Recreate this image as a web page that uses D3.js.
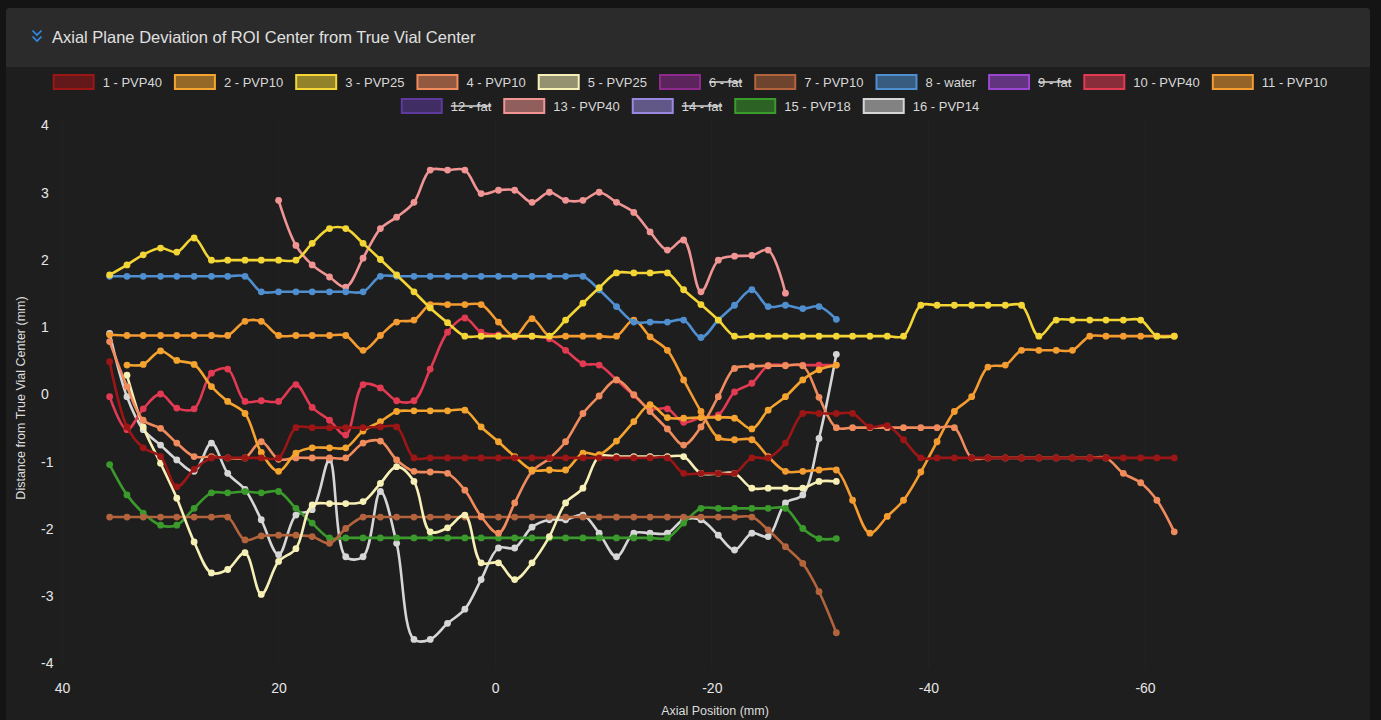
<!DOCTYPE html>
<html>
<head>
<meta charset="utf-8">
<script src="https://cdn.jsdelivr.net/npm/d3@7"></script>
<style>
  html, body { margin: 0; padding: 0; background: #141414; }
  svg { display: block; font-family: "Liberation Sans", Arial, Helvetica, sans-serif; }
</style>
</head>
<body>
<div id="chart"></div>
<script>
// axial positions (mm) of the slices
var positions = [35.6, 34.0, 32.5, 30.9, 29.4, 27.8, 26.2, 24.7, 23.1, 21.6,
  20.0, 18.4, 16.9, 15.3, 13.8, 12.2, 10.6, 9.1, 7.5, 6.0,
  4.4, 2.8, 1.3, -0.3, -1.8, -3.4, -5.0, -6.5, -8.1, -9.6,
  -11.2, -12.8, -14.3, -15.9, -17.4, -19.0, -20.6, -22.1, -23.7, -25.2,
  -26.8, -28.4, -29.9, -31.5, -33.0, -34.6, -36.2, -37.7, -39.3, -40.8,
  -42.4, -44.0, -45.5, -47.1, -48.6, -50.2, -51.8, -53.3, -54.9, -56.4,
  -58.0, -59.6, -61.1, -62.7];

var xTicks = [40, 20, 0, -20, -40, -60];
var yTicks = [4, 3, 2, 1, 0, -1, -2, -3, -4];

var s1_pvp40 = [0.48, -0.49, -0.8, -0.93, -1.38, -1.12, -0.95, -0.95, -0.95, -0.95,
  -0.95, -0.5, -0.5, -0.5, -0.5, -0.5, -0.49, -0.49, -0.95, -0.95,
  -0.95, -0.95, -0.95, -0.95, -0.95, -0.95, -0.95, -0.95, -0.95, -0.95,
  -0.95, -0.95, -0.95, -0.95, -1.18, -1.18, -1.18, -1.18, -0.95, -0.95,
  -0.73, -0.29, -0.29, -0.29, -0.29, -0.49, -0.47, -0.68, -0.95, -0.95,
  -0.95, -0.95, -0.95, -0.95, -0.95, -0.95, -0.95, -0.95, -0.95, -0.95,
  -0.95, -0.95, -0.95, -0.95];
var s2_pvp10 = [null, 0.43, 0.44, 0.64, 0.5, 0.44, 0.11, -0.11, -0.29, -0.87,
  -1.15, -0.88, -0.8, -0.8, -0.8, -0.55, -0.41, -0.26, -0.25, -0.25,
  -0.25, -0.24, -0.49, -0.71, -0.93, -1.13, -1.13, -1.13, -0.88, -0.9,
  -0.7, -0.41, -0.16, -0.35, -0.36, -0.35, -0.35, -0.36, -0.52, -0.24,
  -0.04, 0.21, 0.36, 0.43];
var s3_pvp25 = [1.77, 1.92, 2.07, 2.17, 2.11, 2.32, 1.99, 1.99, 1.99, 1.99,
  1.99, 1.99, 2.24, 2.46, 2.46, 2.24, 2.0, 1.77, 1.52, 1.28,
  1.06, 0.86, 0.86, 0.86, 0.86, 0.86, 0.86, 1.1, 1.35, 1.58,
  1.8, 1.8, 1.8, 1.8, 1.55, 1.33, 1.1, 0.86, 0.86, 0.86,
  0.86, 0.86, 0.86, 0.86, 0.86, 0.86, 0.86, 0.86, 1.32, 1.32,
  1.32, 1.32, 1.32, 1.32, 1.32, 0.86, 1.1, 1.1, 1.1, 1.1,
  1.1, 1.1, 0.86, 0.86];
var s4_pvp10 = [0.78, 0.11, -0.39, -0.51, -0.73, -0.93, -0.93, -0.95, -0.95, -0.71,
  -0.97, -0.95, -0.95, -0.95, -0.95, -0.73, -0.7, -0.98, -1.15, -1.16,
  -1.18, -1.43, -1.82, -2.07, -1.62, -1.15, -0.96, -0.71, -0.29, -0.03,
  0.21, -0.01, -0.26, -0.52, -0.76, -0.49, -0.04, 0.38, 0.41, 0.42,
  0.42, 0.42, -0.05, -0.5, -0.5, -0.5, -0.5, -0.5, -0.5, -0.5,
  -0.5, -0.95, -0.95, -0.95, -0.95, -0.95, -0.95, -0.95, -0.95, -0.95,
  -1.18, -1.32, -1.58, -2.05];
var s5_pvp25 = [null, 0.28, -0.49, -1.03, -1.55, -2.2, -2.66, -2.61, -2.36, -2.98,
  -2.49, -2.3, -1.65, -1.63, -1.63, -1.6, -1.33, -1.08, -1.3, -2.05,
  -1.99, -1.8, -2.51, -2.51, -2.76, -2.51, -2.12, -1.62, -1.4, -0.93,
  -0.93, -0.93, -0.93, -0.93, -0.93, -1.18, -1.18, -1.18, -1.4, -1.4,
  -1.4, -1.4, -1.3, -1.3];
var s6_fat = [];
var s7_pvp10 = [-1.83, -1.83, -1.83, -1.83, -1.83, -1.83, -1.83, -1.83, -2.17, -2.11,
  -2.1, -2.1, -2.12, -2.22, -2.0, -1.83, -1.83, -1.83, -1.83, -1.83,
  -1.83, -1.83, -1.83, -1.83, -1.83, -1.83, -1.83, -1.83, -1.83, -1.83,
  -1.83, -1.83, -1.83, -1.83, -1.83, -1.83, -1.83, -1.83, -1.83, -2.02,
  -2.27, -2.52, -2.94, -3.55];
var s8_water = [1.75, 1.75, 1.75, 1.75, 1.75, 1.75, 1.75, 1.75, 1.75, 1.52,
  1.52, 1.52, 1.52, 1.52, 1.52, 1.52, 1.75, 1.75, 1.75, 1.75,
  1.75, 1.75, 1.75, 1.75, 1.75, 1.75, 1.75, 1.75, 1.75, 1.55,
  1.3, 1.07, 1.07, 1.07, 1.1, 0.84, 1.1, 1.32, 1.55, 1.3,
  1.32, 1.27, 1.3, 1.11];
var s9_fat = [];
var s10_pvp40 = [-0.04, -0.53, -0.22, 0.0, -0.21, -0.22, 0.31, 0.37, -0.11, -0.1,
  -0.11, 0.14, -0.2, -0.39, -0.61, 0.14, 0.09, -0.1, -0.1, 0.37,
  0.92, 1.13, 0.92, 0.88, 0.85, 0.86, 0.82, 0.65, 0.45, 0.43,
  0.21, -0.02, -0.22, -0.22, -0.42, -0.35, -0.31, 0.03, 0.16, 0.42,
  0.43, 0.43, 0.43, 0.43];
var s11_pvp10 = [0.88, 0.87, 0.87, 0.87, 0.87, 0.87, 0.87, 0.87, 1.08, 1.08,
  0.87, 0.87, 0.87, 0.87, 0.87, 0.65, 0.87, 1.07, 1.1, 1.33,
  1.33, 1.33, 1.33, 1.07, 0.86, 1.12, 0.86, 0.86, 0.86, 0.86,
  0.86, 1.1, 0.85, 0.65, 0.21, -0.26, -0.65, -0.68, -0.68, -0.93,
  -1.15, -1.15, -1.13, -1.13, -1.58, -2.07, -1.82, -1.58, -1.16, -0.71,
  -0.26, -0.04, 0.4, 0.43, 0.65, 0.65, 0.65, 0.65, 0.86, 0.86,
  0.86, 0.86, 0.86, 0.86];
var s12_fat = [];
var s13_pvp40 = [null, null, null, null, null, null, null, null, null, null,
  2.88, 2.21, 1.92, 1.74, 1.59, 2.02, 2.46, 2.63, 2.85, 3.33,
  3.33, 3.33, 2.98, 3.03, 3.03, 2.85, 3.0, 2.88, 2.88, 3.0,
  2.85, 2.7, 2.41, 2.14, 2.29, 1.52, 1.99, 2.05, 2.06, 2.14,
  1.5];
var s14_fat = [];
var s15_pvp18 = [-1.05, -1.5, -1.77, -1.95, -1.95, -1.7, -1.47, -1.47, -1.45, -1.47,
  -1.45, -1.7, -1.92, -2.14, -2.14, -2.14, -2.14, -2.14, -2.14, -2.14,
  -2.14, -2.14, -2.14, -2.14, -2.14, -2.14, -2.14, -2.14, -2.14, -2.14,
  -2.14, -2.14, -2.14, -2.14, -1.92, -1.7, -1.7, -1.7, -1.7, -1.7,
  -1.7, -2.0, -2.15, -2.15];
var s16_pvp14 = [0.9, -0.04, -0.53, -0.76, -0.98, -1.15, -0.73, -1.18, -1.42, -1.87,
  -2.39, -1.8, -1.72, -0.98, -2.42, -2.42, -1.45, -2.22, -3.65, -3.65,
  -3.41, -3.2, -2.76, -2.29, -2.29, -1.98, -1.87, -1.87, -1.8, -2.07,
  -2.42, -2.07, -2.07, -2.07, -1.87, -1.87, -2.1, -2.32, -2.07, -2.12,
  -1.62, -1.5, -0.66, 0.59];

var seriesNames = ["1 - PVP40", "2 - PVP10", "3 - PVP25", "4 - PVP10", "5 - PVP25", "6 - fat",
  "7 - PVP10", "8 - water", "9 - fat", "10 - PVP40", "11 - PVP10", "12 - fat",
  "13 - PVP40", "14 - fat", "15 - PVP18", "16 - PVP14"];
var seriesValues = [s1_pvp40, s2_pvp10, s3_pvp25, s4_pvp10, s5_pvp25, s6_fat,
  s7_pvp10, s8_water, s9_fat, s10_pvp40, s11_pvp10, s12_fat,
  s13_pvp40, s14_fat, s15_pvp18, s16_pvp14];
var hiddenSeries = ["6 - fat", "9 - fat", "12 - fat", "14 - fat"];

var colors = ["#9c1616", "#f5a52f", "#f3d535", "#f08b5d", "#f6f0b6", "#8e2a8e",
  "#b3643d", "#4f8fd0", "#9b45d0", "#e23a52", "#f59c30", "#5d3a9c",
  "#f09494", "#9a88e0", "#3b9a2c", "#d6d6d6"];

var W = 1381, H = 720;
var svg = d3.select("#chart").append("svg").attr("width", W).attr("height", H);

// page + panel
svg.append("rect").attr("width", W).attr("height", H).attr("fill", "#141414");
svg.append("rect").attr("x", 6).attr("y", 8).attr("width", 1364).attr("height", 720)
  .attr("rx", 4).attr("fill", "#1e1e1e");
svg.append("path").attr("d", "M6,67 L6,12 Q6,8 10,8 L1366,8 Q1370,8 1370,12 L1370,67 Z")
  .attr("fill", "#2b2b2b");

// header icon + title
var icon = svg.append("g").attr("fill", "none").attr("stroke", "#2f8df0").attr("stroke-width", 1.6);
icon.append("path").attr("d", "M32.5,30.5 L37,35 L41.5,30.5");
icon.append("path").attr("d", "M32.5,36.5 L37,41 L41.5,36.5");
svg.append("text").attr("x", 52).attr("y", 43).attr("fill", "#e0e0e0")
  .style("font-size", "16.5px").text("Axial Plane Deviation of ROI Center from True Vial Center");

// scales
var xScale = d3.scaleLinear().domain([40, -60]).range([62, 1145]);
var yScale = d3.scaleLinear().domain([-4, 4]).range([663, 125]);

// faint vertical grid
svg.append("g").selectAll("line").data(xTicks).enter().append("line")
  .attr("x1", function(d) { return xScale(d); }).attr("x2", function(d) { return xScale(d); })
  .attr("y1", 118).attr("y2", 668).attr("stroke", "#232323").attr("stroke-width", 1);

// axes (labels only), plain hyphen minus as in the original
var plainFormat = function(d) { return String(d); };
var yAxis = d3.axisLeft(yScale).tickValues(yTicks).tickSize(0).tickFormat(plainFormat);
var gy = svg.append("g").attr("transform", "translate(41,0)").call(yAxis);
gy.select(".domain").remove();
gy.selectAll("text").attr("text-anchor", "start").attr("x", 0).attr("dy", "0.35em")
  .attr("fill", "#e6e6e6").style("font-size", "14px");

var xAxis = d3.axisBottom(xScale).tickValues(xTicks).tickSize(0).tickFormat(plainFormat);
var gx = svg.append("g").attr("transform", "translate(0,680)").call(xAxis);
gx.select(".domain").remove();
gx.selectAll("text").attr("fill", "#e6e6e6").style("font-size", "14px");

svg.append("text").attr("x", 715).attr("y", 715).attr("text-anchor", "middle")
  .attr("fill", "#dcdcdc").style("font-size", "12.5px").text("Axial Position (mm)");
svg.append("text").attr("transform", "translate(25,398) rotate(-90)").attr("text-anchor", "middle")
  .attr("fill", "#dcdcdc").style("font-size", "12.5px").text("Distance from True Vial Center (mm)");

// lines + dots, first dataset on top
var line = d3.line()
  .defined(function(d) { return d.y != null; })
  .x(function(d) { return xScale(d.x); })
  .y(function(d) { return yScale(d.y); })
  .curve(d3.curveCatmullRom.alpha(0.5));

var plot = svg.append("g");
for (var k = seriesNames.length - 1; k >= 0; k--) {
  if (hiddenSeries.indexOf(seriesNames[k]) >= 0) continue;
  var pts = seriesValues[k].map(function(v, i) { return { x: positions[i], y: v }; });
  var g = plot.append("g");
  g.append("path").datum(pts).attr("d", line)
    .attr("fill", "none").attr("stroke", colors[k]).attr("stroke-width", 2.6);
  g.selectAll("circle").data(pts.filter(function(p) { return p.y != null; }))
    .enter().append("circle")
    .attr("cx", function(d) { return xScale(d.x); })
    .attr("cy", function(d) { return yScale(d.y); })
    .attr("r", 3.4).attr("fill", colors[k]);
}

// legend: two centred rows
var rows = [seriesNames.slice(0, 11), seriesNames.slice(11)];
var rowY = [82, 106];
var panelCenter = 690;
var gap = 12;
rows.forEach(function(names, r) {
  var lg = svg.append("g");
  var cx = 0;
  names.forEach(function(name) {
    var k = seriesNames.indexOf(name);
    var hidden = hiddenSeries.indexOf(name) >= 0;
    var it = lg.append("g").attr("transform", "translate(" + cx + ",0)");
    it.append("rect").attr("x", 1).attr("y", rowY[r] - 7).attr("width", 40).attr("height", 14)
      .attr("fill", colors[k]).attr("fill-opacity", 0.55)
      .attr("stroke", colors[k]).attr("stroke-width", 2);
    var t = it.append("text").attr("x", 50).attr("y", rowY[r]).attr("dy", "0.35em")
      .attr("fill", "#d8d8d8").style("font-size", "13px").text(name);
    var tw = t.node().getComputedTextLength();
    if (hidden) {
      it.append("line").attr("x1", 50).attr("x2", 50 + tw)
        .attr("y1", rowY[r]).attr("y2", rowY[r])
        .attr("stroke", "#d8d8d8").attr("stroke-width", 1.5);
    }
    cx += 50 + tw + gap;
  });
  var total = cx - gap;
  lg.attr("transform", "translate(" + (panelCenter - total / 2) + ",0)");
});
</script>
</body>
</html>
